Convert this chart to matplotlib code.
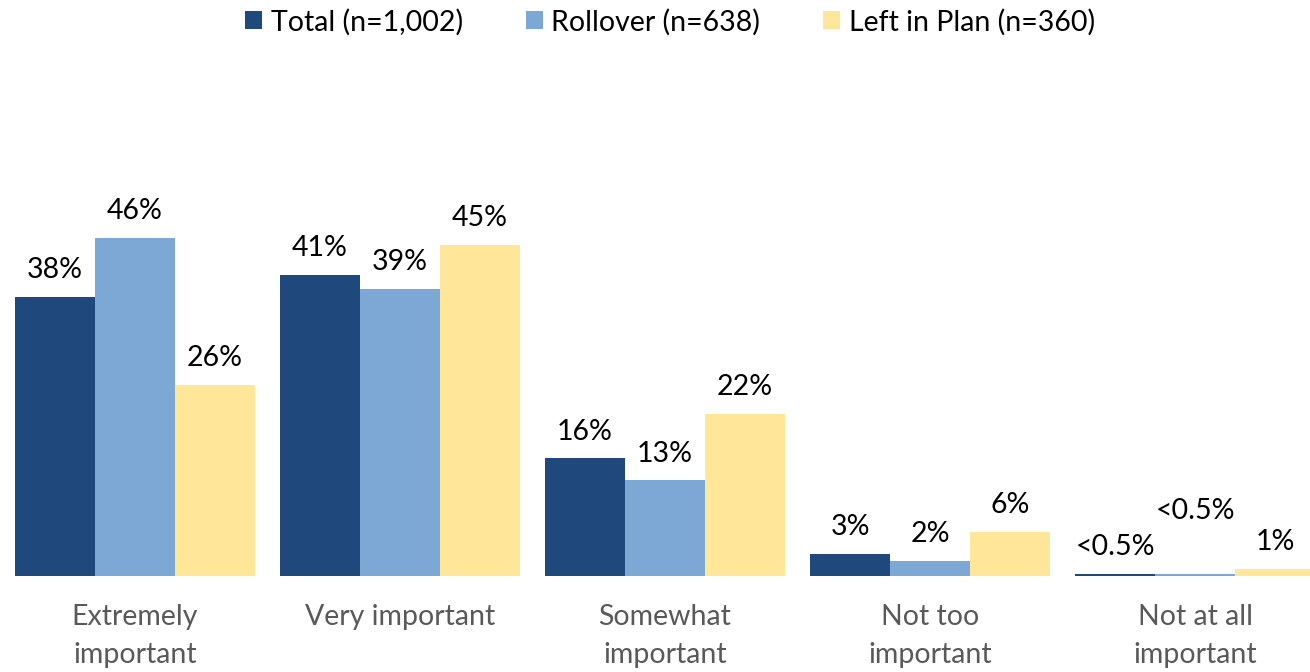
import matplotlib
matplotlib.use("Agg")
import matplotlib.pyplot as plt
import numpy as np
from matplotlib.patches import Patch

plt.rcParams['font.family'] = ['Lato', 'DejaVu Sans']

categories = ["Extremely\nimportant", "Very important", "Somewhat\nimportant", "Not too\nimportant", "Not at all\nimportant"]
series_names = ["Total (n=1,002)", "Rollover (n=638)", "Left in Plan (n=360)"]
total = [38, 41, 16, 3, 0.3]
rollover = [46, 39, 13, 2, 0.3]
left_in_plan = [26, 45, 22, 6, 1]
total_labels = ["38%", "41%", "16%", "3%", "<0.5%"]
rollover_labels = ["46%", "39%", "13%", "2%", "<0.5%"]
left_labels = ["26%", "45%", "22%", "6%", "1%"]
colors = ["#1F487C", "#7DA7D5", "#FFE699"]

fig = plt.figure(figsize=(13.1, 6.72), dpi=100)
W, H = 1310, 672
ax = fig.add_axes([0, 1 - 576 / H, 1, (576 - 100) / H])

FS = 20.5
x = np.arange(len(categories))
bw = 80 / 265
series = [total, rollover, left_in_plan]
labels = [total_labels, rollover_labels, left_labels]
for i, (vals, labs, c) in enumerate(zip(series, labels, colors)):
    pos = x + (i - 1) * bw
    ax.bar(pos, vals, width=bw, color=c, edgecolor='none')
    for p, v, l in zip(pos, vals, labs):
        off = 10
        if l == "<0.5%":
            off = 10 if i == 0 else 36
        ax.annotate(l, (p, v), xytext=(0, off), textcoords='offset points',
                    ha='center', va='bottom', fontsize=FS, color='black')

ax.set_xlim(-135 / 265, (1310 - 135) / 265)
ax.set_ylim(0, 476 / 7.35)
for s in ax.spines.values():
    s.set_visible(False)
ax.set_yticks([])
ax.set_xticks(x)
ax.set_xticklabels(categories, fontsize=FS, color='#595959', linespacing=1.6)
ax.tick_params(axis='x', length=0, pad=20)
for t in ax.get_xticklabels():
    t.set_va('top')

handles = [Patch(facecolor=c, edgecolor='none') for c in colors]
fig.legend(handles, series_names, loc='center', bbox_to_anchor=(670 / W, 1 - 22 / H),
           ncol=3, frameon=False, fontsize=FS, handlelength=0.6, handleheight=0.6,
           handletextpad=0.3, columnspacing=2.2)

fig.savefig("out.png", dpi=100)
